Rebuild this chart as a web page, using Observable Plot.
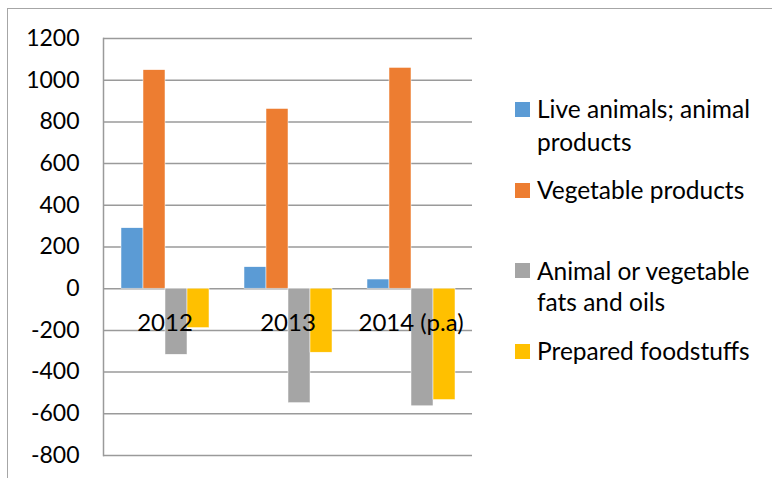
<!DOCTYPE html>
<html>
<head>
<meta charset="utf-8">
<script src="https://cdn.jsdelivr.net/npm/d3@7"></script>
<script src="https://cdn.jsdelivr.net/npm/@observablehq/plot@0.6"></script>
<style>
  html, body { margin: 0; padding: 0; background: #fff; }
  #wrap { position: relative; width: 772px; height: 478px; overflow: hidden; font-family: Lato, "Open Sans", sans-serif; }
  #border { position: absolute; left: 7px; top: 8px; width: 780px; height: 490px; border: 1.5px solid #a6a6a6; box-sizing: border-box; }
  #chart { position: absolute; left: 0; top: 0; }
  #legend { position: absolute; left: 515px; top: 0; font-size: 24.5px; color: #000; }
  .sw { position: absolute; left: 0; width: 15px; height: 15px; }
  .lbl { position: absolute; left: 22px; line-height: 32px; white-space: nowrap; }
</style>
</head>
<body>
<div id="wrap">
  <div id="border"></div>
  <div id="chart"></div>
  <div id="legend"></div>
</div>
<script>
const years = ["2012", "2013", "2014 (p.a)"];
const seriesNames = ["Live animals; animal products", "Vegetable products", "Animal or vegetable fats and oils", "Prepared foodstuffs"];
const legendLines = [["Live animals; animal", "products"], ["Vegetable products"], ["Animal or vegetable", "fats and oils"], ["Prepared foodstuffs"]];
const colors = ["#5b9bd5", "#ed7d31", "#a5a5a5", "#ffc000"];
const liveAnimals = [290, 103, 44];
const vegetable = [1048, 862, 1059];
const fatsOils = [-317, -549, -564];
const prepared = [-189, -307, -534];
const yTicks = [-800, -600, -400, -200, 0, 200, 400, 600, 800, 1000, 1200];

const seriesValues = [liveAnimals, vegetable, fatsOils, prepared];
const data = [];
years.forEach((yr, i) => {
  seriesNames.forEach((s, j) => data.push({year: yr, series: s, value: seriesValues[j][i]}));
});

const plot = Plot.plot({
  width: 772,
  height: 478,
  marginLeft: 103,
  marginRight: 300,
  marginTop: 38,
  marginBottom: 23,
  style: {fontFamily: "Lato, 'Open Sans', sans-serif", fontSize: "23px", color: "#000", background: "transparent", overflow: "visible"},
  fx: {domain: years, padding: 0, axis: null},
  x: {domain: seriesNames, paddingInner: 0, paddingOuter: 0.76, axis: null},
  y: {domain: [-800, 1200], ticks: yTicks, axis: null},
  color: {domain: seriesNames, range: colors},
  marks: [
    Plot.gridY(yTicks, {stroke: "#9a9a9a", strokeOpacity: 1, strokeWidth: 1.5}),
    Plot.frame({anchor: "left", facetAnchor: "left", stroke: "#9a9a9a", strokeWidth: 1.5}),
    Plot.axisY(yTicks, {tickSize: 0, tickPadding: 24, fontSize: 23, facetAnchor: "left", anchor: "left", label: null, tickFormat: d => String(d)}),
    Plot.barY(data, {fx: "year", x: "series", y: "value", fill: "series", stroke: "#ffffff", strokeWidth: 0.5}),
    Plot.text(years, {fx: d => d, y: () => 0, text: d => d, dy: 35, fontSize: 24, fill: "#000"})
  ]
});
document.getElementById("chart").appendChild(plot);

const legendY = [[109, 141.7], [190], [270.7, 301.7], [351]];
const legend = document.getElementById("legend");
legendLines.forEach((lines, i) => {
  const sw = document.createElement("div");
  sw.className = "sw";
  sw.style.background = colors[i];
  sw.style.top = (legendY[i][0] - 7.5) + "px";
  legend.appendChild(sw);
  lines.forEach((t, k) => {
    const l = document.createElement("div");
    l.className = "lbl";
    l.textContent = t;
    l.style.top = (legendY[i][k] - 16) + "px";
    legend.appendChild(l);
  });
});
</script>
</body>
</html>
